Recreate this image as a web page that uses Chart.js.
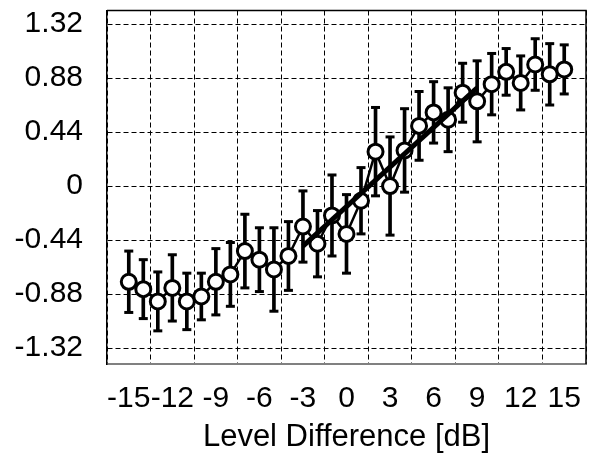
<!DOCTYPE html>
<html>
<head>
<meta charset="utf-8">
<script src="https://cdn.jsdelivr.net/npm/chart.js@4"></script>
<style>
  html, body { margin: 0; padding: 0; background: #fff; }
  #wrap { width: 610px; height: 456px; }
</style>
</head>
<body>
<div id="wrap"><canvas id="myChart" width="610" height="456"></canvas></div>
<script>
const levels = [-15, -14, -13, -12, -11, -10, -9, -8, -7, -6, -5, -4, -3, -2, -1, 0,
                1, 2, 3, 4, 5, 6, 7, 8, 9, 10, 11, 12, 13, 14, 15];
const means = [-0.78, -0.84, -0.94, -0.83, -0.94, -0.90, -0.78, -0.72, -0.53, -0.60, -0.68,
               -0.57, -0.33, -0.47, -0.24, -0.39, -0.12, 0.28, 0.00, 0.29, 0.49, 0.60,
               0.54, 0.76, 0.69, 0.83, 0.93, 0.84, 0.99, 0.91, 0.95];
const errors = [0.25, 0.24, 0.24, 0.27, 0.23, 0.19, 0.27, 0.26, 0.30, 0.26, 0.34,
                0.28, 0.29, 0.27, 0.33, 0.32, 0.27, 0.36, 0.40, 0.34, 0.28, 0.25,
                0.26, 0.24, 0.33, 0.25, 0.19, 0.22, 0.21, 0.25, 0.20];
const fitX = [-3, 9];
const fitY = [-0.49, 0.80];
const xTicks = [-15, -12, -9, -6, -3, 0, 3, 6, 9, 12, 15];
const yTicks = [-1.32, -0.88, -0.44, 0, 0.44, 0.88, 1.32];

const fontFam = "'Liberation Sans', Arial, sans-serif";

// top and right edges of the plot box
const frame = {
    id: 'frame',
    afterDraw(chart) {
        const {ctx, chartArea: a} = chart;
        ctx.save();
        ctx.strokeStyle = '#000';
        ctx.lineWidth = 1.5;
        ctx.beginPath();
        ctx.moveTo(a.left, a.top);
        ctx.lineTo(a.right, a.top);
        ctx.lineTo(a.right, a.bottom);
        ctx.stroke();
        ctx.restore();
    }
};

const ctx = document.getElementById('myChart').getContext('2d');

new Chart(ctx, {
    type: 'line',
    data: {
        datasets: [
            {
                type: 'line',
                data: fitX.map((x, i) => ({x: x, y: fitY[i]})),
                borderColor: '#000',
                borderWidth: 5,
                pointRadius: 0,
                order: 0,
                clip: false
            },
            {
                type: 'line',
                data: levels.map((x, i) => ({x: x, y: means[i]})),
                borderColor: '#000',
                borderWidth: 2.5,
                pointRadius: 7.5,
                pointBorderWidth: 3,
                pointBackgroundColor: '#fff',
                pointBorderColor: '#000',
                order: 1,
                clip: false
            },
            {
                type: 'scatter',
                data: levels.flatMap((x, i) => [
                    {x: x, y: means[i] + errors[i]},
                    {x: x, y: means[i] - errors[i]}
                ]),
                pointStyle: 'line',
                pointRadius: 4.5,
                pointBorderWidth: 3,
                pointBorderColor: '#000',
                order: 2,
                clip: false
            },
            {
                type: 'bar',
                data: levels.map((x, i) => ({x: x, y: [means[i] - errors[i], means[i] + errors[i]]})),
                backgroundColor: '#000',
                borderWidth: 0,
                barThickness: 3,
                grouped: false,
                order: 3,
                clip: false
            }
        ]
    },
    plugins: [frame],
    options: {
        responsive: false,
        animation: false,
        layout: { padding: { top: 8, right: 24, left: 0, bottom: 0 } },
        plugins: {
            legend: { display: false },
            tooltip: { enabled: false }
        },
        scales: {
            x: {
                type: 'linear',
                min: -15,
                max: 15,
                afterBuildTicks: scale => { scale.ticks = xTicks.map(v => ({value: v})); },
                afterFit: scale => {
                    scale.height = 92;
                    scale.paddingLeft = 0;
                    scale.paddingRight = 0;
                },
                grid: { color: '#000', lineWidth: 1, drawTicks: false },
                border: { display: true, color: '#808080', width: 2, dash: [5, 3] },
                ticks: {
                    color: '#000',
                    padding: 17,
                    maxRotation: 0,
                    autoSkip: false,
                    font: { family: fontFam, size: 30 },
                    callback: v => String(v)
                },
                title: {
                    display: true,
                    text: 'Level Difference [dB]',
                    color: '#000',
                    padding: 0,
                    font: { family: fontFam, size: 31 }
                }
            },
            y: {
                type: 'linear',
                min: -1.45,
                max: 1.43,
                afterBuildTicks: scale => { scale.ticks = yTicks.map(v => ({value: v})); },
                afterFit: scale => {
                    scale.width = 107;
                    scale.paddingTop = 0;
                    scale.paddingBottom = 0;
                },
                grid: { color: '#000', lineWidth: 1, drawTicks: false },
                border: { display: true, color: '#000', width: 1.5, dash: [5, 3] },
                ticks: {
                    color: '#000',
                    padding: 24,
                    font: { family: fontFam, size: 30 },
                    callback: v => (v === 0 ? '0' : v.toFixed(2))
                }
            }
        }
    }
});
</script>
</body>
</html>
